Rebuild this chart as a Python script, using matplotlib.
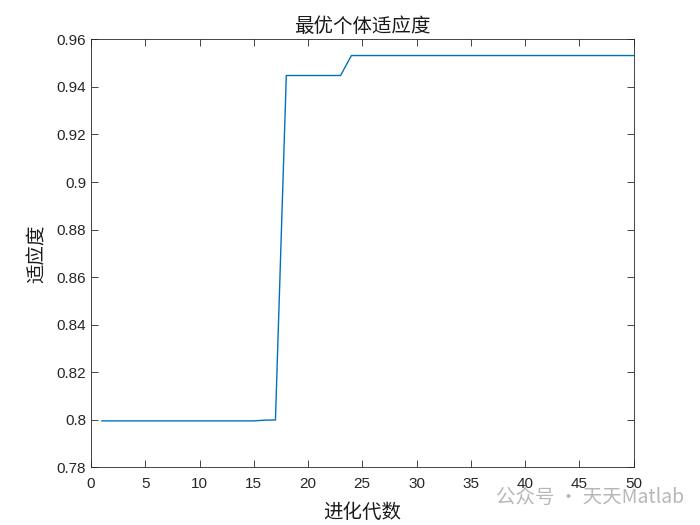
import matplotlib
matplotlib.use("Agg")
import matplotlib.pyplot as plt
import numpy as np

plt.rcParams['font.family'] = ['Liberation Sans', 'Noto Sans CJK SC', 'DejaVu Sans']

# 每代最优个体适应度
generations = np.arange(1, 51)
fitness = ([0.7995] * 15 + [0.7998, 0.7999]
           + [0.9448] * 6
           + [0.9532] * 27)

fig = plt.figure(figsize=(7, 5.25), dpi=100)
ax = fig.add_axes([0.13, 0.11, 0.775, 0.815])
ax.plot(generations, fitness, color='#0072BD', linewidth=1.0)

ax.set_xlim(0, 50)
ax.set_ylim(0.78, 0.96)
ax.set_xticks(np.arange(0, 51, 5))
ax.set_yticks(np.arange(0.78, 0.961, 0.02))
ax.set_yticklabels(['0.78', '0.8', '0.82', '0.84', '0.86', '0.88', '0.9',
                    '0.92', '0.94', '0.96'])
ax.tick_params(direction='in', top=True, right=True, labelsize=11,
               length=5, width=0.6, colors='#262626')
ax.tick_params(axis='x', pad=7)
for s in ax.spines.values():
    s.set_linewidth(0.6)
    s.set_color('#262626')

cjk = ['Noto Sans CJK SC', 'DejaVu Sans']
ax.set_title('最优个体适应度', family=cjk, fontsize=14, color='#1a1a1a', pad=5)
ax.set_xlabel('进化代数', family=cjk, fontsize=14, color='#1a1a1a', labelpad=8)
ax.set_ylabel('适应度', family=cjk, fontsize=14, color='#1a1a1a', labelpad=6)

fig.text(0.708, 0.053, '公众号 · 天天Matlab', family=cjk, fontsize=14,
         color='#b0b0b0', alpha=0.9, va='center')

fig.savefig('out.png', dpi=100)
